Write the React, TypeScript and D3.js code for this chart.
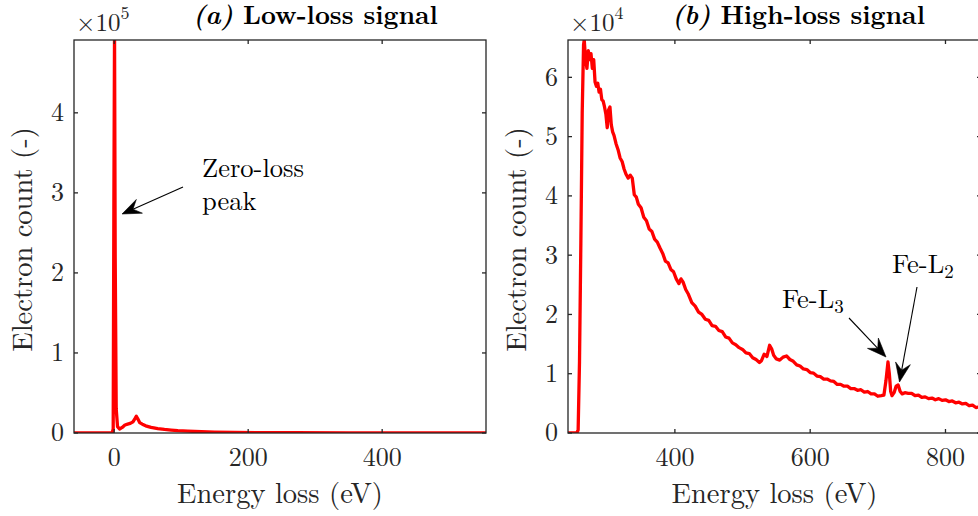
import React from "react";
import * as d3 from "d3";

// ---------- DATA ----------
// (a) Low-loss spectrum: [energy loss eV, electron count]
const lowLoss: [number, number][] = [
  [-60, 0], [-10, 0], [-3, 0], [-1.5, 5e3], [-0.5, 2.8e5], [0.5, 5.0e5], [1.5, 2.2e5],
  [3, 3.0e4], [5, 8e3], [8, 5e3], [12, 7e3], [16, 1.0e4], [20, 1.1e4], [24, 1.2e4],
  [28, 1.4e4], [31, 1.8e4], [33, 2.1e4], [35, 1.8e4], [38, 1.3e4], [42, 1.1e4],
  [47, 9e3], [55, 7e3], [65, 5.5e3], [75, 4.5e3], [85, 3.7e3], [95, 3.0e3],
  [110, 2.3e3], [130, 1.6e3], [150, 1.2e3], [180, 800], [220, 500], [270, 300],
  [350, 200], [450, 100], [555, 100],
];

// (b) High-loss spectrum, counts in units of 1e4
const highLoss: [number, number][] = [
  [242, 0], [250, 0], [255, 0], [257, 0.05], [259, 1.2], [261, 3.2], [263, 5.4], [265, 6.55],
  [266, 6.63], [268, 6.3], [270, 6.15], [272, 6.45], [274, 6.3], [276, 6.4], [278, 6.15],
  [280, 6.3], [282, 5.92], [284, 5.85], [286, 5.9], [288, 5.75], [290, 5.8], [292, 5.62],
  [294, 5.6], [296, 5.5], [298, 5.38], [300, 5.15], [302, 5.45], [304, 5.5], [306, 5.2],
  [308, 5.08], [310, 5.02], [313, 4.88], [316, 4.78], [319, 4.64], [322, 4.58], [325, 4.45],
  [328, 4.36], [331, 4.3], [334, 4.35], [337, 4.3], [340, 4.02], [343, 3.98], [346, 3.86],
  [350, 3.8], [354, 3.64], [358, 3.58], [362, 3.44], [366, 3.4], [370, 3.27], [374, 3.22],
  [378, 3.12], [382, 3.03], [386, 2.9], [390, 2.87], [394, 2.76], [398, 2.72], [402, 2.6],
  [406, 2.52], [409, 2.6], [412, 2.55], [416, 2.42], [420, 2.34], [425, 2.2], [430, 2.14],
  [435, 2.04], [440, 2.0], [445, 1.92], [450, 1.9], [455, 1.81], [460, 1.8], [465, 1.73],
  [470, 1.71], [475, 1.62], [480, 1.6], [485, 1.52], [490, 1.49], [495, 1.44], [500, 1.41],
  [505, 1.35], [510, 1.34], [515, 1.27], [520, 1.24], [525, 1.19], [528, 1.22], [532, 1.33],
  [536, 1.29], [540, 1.48], [543, 1.42], [546, 1.31], [550, 1.25], [555, 1.23], [560, 1.28],
  [565, 1.3], [570, 1.24], [575, 1.21], [580, 1.15], [585, 1.13], [590, 1.08], [595, 1.07],
  [600, 1.02], [605, 1.01], [610, 0.96], [615, 0.95], [620, 0.91], [625, 0.91], [630, 0.88],
  [635, 0.87], [640, 0.82], [645, 0.82], [650, 0.79], [655, 0.79], [660, 0.75], [665, 0.75],
  [670, 0.72], [675, 0.73], [680, 0.69], [685, 0.7], [690, 0.66], [695, 0.66], [700, 0.62],
  [705, 0.63], [709, 0.64], [712, 0.88], [715, 1.2], [717, 1.0], [719, 0.7], [721, 0.63],
  [724, 0.68], [727, 0.79], [730, 0.81], [733, 0.7], [736, 0.66], [740, 0.68], [745, 0.67],
  [750, 0.67], [755, 0.63], [760, 0.64], [765, 0.6], [770, 0.61], [775, 0.58], [780, 0.59],
  [785, 0.56], [790, 0.58], [795, 0.55], [800, 0.56], [805, 0.53], [810, 0.54], [815, 0.51],
  [820, 0.52], [825, 0.49], [830, 0.5], [835, 0.46], [840, 0.47], [845, 0.43], [850, 0.44],
  [853, 0.42],
];

const lowXTicks = [0, 200, 400];
const lowYTicks = [0, 1, 2, 3, 4];
const highXTicks = [400, 600, 800];
const highYTicks = [0, 1, 2, 3, 4, 5, 6];

const xLabel = "Energy loss (eV)";
const yLabel = "Electron count (-)";

// ---------- STYLE ----------
const FONT = { fontFamily: "Latin Modern Roman" };
const AXIS = "#262626";
const RED = "#ff0000";
const TOP = 40;
const BOTTOM = 433;
const TICK = 4;

type PanelProps = {
  id: string;
  x0: number;
  x1: number;
  xDomain: [number, number];
  yDomain: [number, number];
  data: [number, number][];
  yScaleFactor: number;
  xTicks: number[];
  yTicks: number[];
  exponent: string;
  titleTag: string;
  titleText: string;
  titleX: number;
};

function Panel(p: PanelProps) {
  const x = d3.scaleLinear().domain(p.xDomain).range([p.x0, p.x1]);
  const y = d3.scaleLinear().domain(p.yDomain).range([BOTTOM, TOP]);
  const line = d3
    .line<[number, number]>()
    .x((d) => x(d[0]))
    .y((d) => y(d[1] / p.yScaleFactor));
  const cx = (p.x0 + p.x1) / 2;
  return (
    <g>
      <defs>
        <clipPath id={p.id}>
          <rect x={p.x0} y={TOP} width={p.x1 - p.x0} height={BOTTOM - TOP} />
        </clipPath>
      </defs>
      <path
        d={line(p.data) || ""}
        fill="none"
        stroke={RED}
        strokeWidth={3.3}
        strokeLinejoin="round"
        clipPath={`url(#${p.id})`}
      />
      <rect
        x={p.x0}
        y={TOP}
        width={p.x1 - p.x0}
        height={BOTTOM - TOP}
        fill="none"
        stroke={AXIS}
        strokeWidth={1.3}
      />
      {p.xTicks.map((t) => (
        <g key={"x" + t}>
          <line x1={x(t)} x2={x(t)} y1={BOTTOM} y2={BOTTOM - TICK} stroke={AXIS} strokeWidth={1.3} />
          <line x1={x(t)} x2={x(t)} y1={TOP} y2={TOP + TICK} stroke={AXIS} strokeWidth={1.3} />
          <text x={x(t)} y={466} textAnchor="middle" style={FONT} fontSize={26} fill={AXIS}>
            {t}
          </text>
        </g>
      ))}
      {p.yTicks.map((t) => (
        <g key={"y" + t}>
          <line x1={p.x0} x2={p.x0 + TICK} y1={y(t)} y2={y(t)} stroke={AXIS} strokeWidth={1.3} />
          <line x1={p.x1} x2={p.x1 - TICK} y1={y(t)} y2={y(t)} stroke={AXIS} strokeWidth={1.3} />
          <text x={p.x0 - 10} y={y(t) + 8.4} textAnchor="end" style={FONT} fontSize={26} fill={AXIS}>
            {t}
          </text>
        </g>
      ))}
      <text x={p.x0 + 2} y={31} style={FONT} fontSize={25} fill={AXIS}>
        ×10
        <tspan dy={-12} fontSize={18}>
          {p.exponent}
        </tspan>
      </text>
      <text x={cx} y={503} textAnchor="middle" style={FONT} fontSize={28.5} fill={AXIS}>
        {xLabel}
      </text>
      <text
        transform={`translate(${p.x0 - 42},${(TOP + BOTTOM) / 2 + 3}) rotate(-90)`}
        textAnchor="middle"
        style={FONT}
        fontSize={28.5}
        fill={AXIS}
      >
        {yLabel}
      </text>
      <text x={p.titleX} y={24} style={FONT} fontWeight="bold" fontSize={26} fill="#000">
        <tspan fontStyle="italic">{p.titleTag}</tspan> {p.titleText}
      </text>
    </g>
  );
}

function Arrow({ x1, y1, x2, y2 }: { x1: number; y1: number; x2: number; y2: number }) {
  const dx = x2 - x1;
  const dy = y2 - y1;
  const len = Math.hypot(dx, dy);
  const ux = dx / len;
  const uy = dy / len;
  const px = -uy;
  const py = ux;
  const hl = 19;
  const hw = 7.5;
  const notch = 12;
  const bx = x2 - ux * hl;
  const by = y2 - uy * hl;
  const nx = x2 - ux * notch;
  const ny = y2 - uy * notch;
  const head = `M${x2},${y2} L${bx + px * hw},${by + py * hw} L${nx},${ny} L${bx - px * hw},${by - py * hw} Z`;
  return (
    <g>
      <line x1={x1} y1={y1} x2={nx} y2={ny} stroke="#000" strokeWidth={1.1} />
      <path d={head} fill="#000" stroke="#000" strokeWidth={0.6} strokeLinejoin="miter" />
    </g>
  );
}

export default function App() {
  return (
    <svg
      width={978}
      height={516}
      viewBox="0 0 978 516"
      style={{ position: "absolute", left: 0, top: 0, background: "#fff" }}
    >
      <rect x={0} y={0} width={978} height={516} fill="#fff" />
      <Panel
        id="clipA"
        x0={74}
        x1={486}
        xDomain={[-60, 555]}
        yDomain={[0, 4.91]}
        data={lowLoss}
        yScaleFactor={1e5}
        xTicks={lowXTicks}
        yTicks={lowYTicks}
        exponent="5"
        titleTag="(a)"
        titleText="Low-loss signal"
        titleX={193}
      />
      <Panel
        id="clipB"
        x0={568}
        x1={981}
        xDomain={[242, 852.5]}
        yDomain={[0, 6.63]}
        data={highLoss}
        yScaleFactor={1}
        xTicks={highXTicks}
        yTicks={highYTicks}
        exponent="4"
        titleTag="(b)"
        titleText="High-loss signal"
        titleX={672}
      />
      {/* Annotations */}
      <text x={202} y={177} style={FONT} fontSize={26.5} fill="#000">
        Zero-loss
      </text>
      <text x={202} y={210} style={FONT} fontSize={26.5} fill="#000">
        peak
      </text>
      <Arrow x1={183} y1={187} x2={122} y2={214} />

      <text x={782} y={308} style={FONT} fontSize={26.5} fill="#000">
        Fe-L<tspan dy={5} fontSize={19}>3</tspan>
      </text>
      <Arrow x1={849} y1={318} x2={886} y2={357} />

      <text x={892} y={273} style={FONT} fontSize={26.5} fill="#000">
        Fe-L<tspan dy={5} fontSize={19}>2</tspan>
      </text>
      <Arrow x1={917} y1={287} x2={899.5} y2={382} />
    </svg>
  );
}
